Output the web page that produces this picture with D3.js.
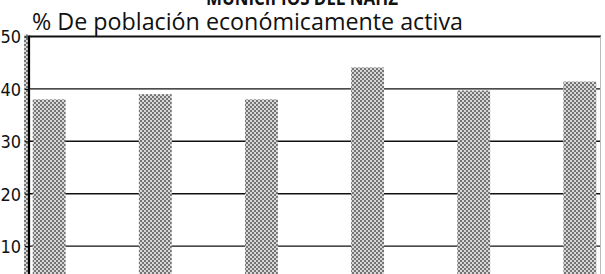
<!DOCTYPE html>
<html>
<head>
<meta charset="utf-8">
<script src="https://cdn.jsdelivr.net/npm/d3@7"></script>
<style>
  body { margin: 0; background: #fff; }
  svg { display: block; }
</style>
</head>
<body>
<div id="chart"></div>
<script>
const municipios = ["M1", "M2", "M3", "M4", "M5", "M6"];
const pea = [38.0, 39.0, 38.0, 44.1, 39.7, 41.4];
const yTicks = [10, 20, 30, 40, 50];

const width = 605;
const height = 274;
const margin = { left: 29, right: 5 };

const svg = d3.select("#chart")
  .append("svg")
  .attr("width", width)
  .attr("height", height);

// checkered grey fill like the printed screen
const defs = svg.append("defs");
const pat = defs.append("pattern")
  .attr("id", "screen")
  .attr("patternUnits", "userSpaceOnUse")
  .attr("width", 4)
  .attr("height", 4);
pat.append("rect").attr("width", 4).attr("height", 4).attr("fill", "#d8d8d8");
pat.append("rect").attr("width", 2).attr("height", 2).attr("fill", "#747474");
pat.append("rect").attr("x", 2).attr("y", 2).attr("width", 2).attr("height", 2).attr("fill", "#747474");

const x = d3.scaleBand()
  .domain(municipios)
  .range([margin.left, width - margin.right])
  .paddingInner(0.69)
  .paddingOuter(0.035);

const y = d3.scaleLinear()
  .domain([0, 50])
  .range([298.5, 36.5]);

// gridlines
svg.append("g")
  .selectAll("line")
  .data(yTicks)
  .join("line")
  .attr("x1", margin.left)
  .attr("x2", width - margin.right + 1)
  .attr("y1", d => y(d))
  .attr("y2", d => y(d))
  .attr("stroke", "#111")
  .attr("stroke-width", d => d === 50 ? 2.2 : 1.4);

// right border
svg.append("line")
  .attr("x1", width - margin.right + 0.5)
  .attr("x2", width - margin.right + 0.5)
  .attr("y1", y(50))
  .attr("y2", height)
  .attr("stroke", "#bbb")
  .attr("stroke-width", 1);

// bars
svg.append("g")
  .selectAll("rect")
  .data(pea)
  .join("rect")
  .attr("x", (d, i) => x(municipios[i]))
  .attr("width", x.bandwidth())
  .attr("y", d => y(d))
  .attr("height", d => y(0) - y(d))
  .attr("fill", "url(#screen)");

// shaded strip left of the axis
svg.append("rect")
  .attr("x", 24)
  .attr("y", y(50) - 2)
  .attr("width", 4)
  .attr("height", height)
  .attr("fill", "url(#screen)");

// y axis
const yAxis = d3.axisLeft(y)
  .tickValues(yTicks)
  .tickSize(4)
  .tickPadding(4);

const gy = svg.append("g")
  .attr("transform", `translate(${margin.left},0)`)
  .call(yAxis);
gy.select(".domain").remove();
gy.selectAll(".tick line").attr("stroke", "#111").attr("stroke-width", 1.2);
gy.selectAll(".tick text")
  .attr("fill", "#111")
  .attr("font-family", "'Liberation Sans Narrow', 'DejaVu Sans Condensed', sans-serif")
  .attr("font-size", 18)
  .attr("dy", "0.36em");

svg.append("line")
  .attr("x1", margin.left)
  .attr("x2", margin.left)
  .attr("y1", y(50) - 1)
  .attr("y2", height)
  .attr("stroke", "#000")
  .attr("stroke-width", 2.2);

// header cut off at top of the crop
svg.append("text")
  .attr("x", 302)
  .attr("y", 5)
  .attr("text-anchor", "middle")
  .attr("font-family", "'Open Sans', sans-serif")
  .attr("font-weight", "bold")
  .attr("font-size", 20)
  .attr("textLength", 192)
  .attr("lengthAdjust", "spacingAndGlyphs")
  .attr("fill", "#111")
  .text("MUNICIPIOS DEL ÑAHZ");

// title
svg.append("text")
  .attr("x", 32)
  .attr("y", 30)
  .attr("font-family", "'Open Sans', sans-serif")
  .attr("font-size", 23)
  .attr("textLength", 431)
  .attr("lengthAdjust", "spacingAndGlyphs")
  .attr("fill", "#111")
  .text("% De población económicamente activa");
</script>
</body>
</html>
